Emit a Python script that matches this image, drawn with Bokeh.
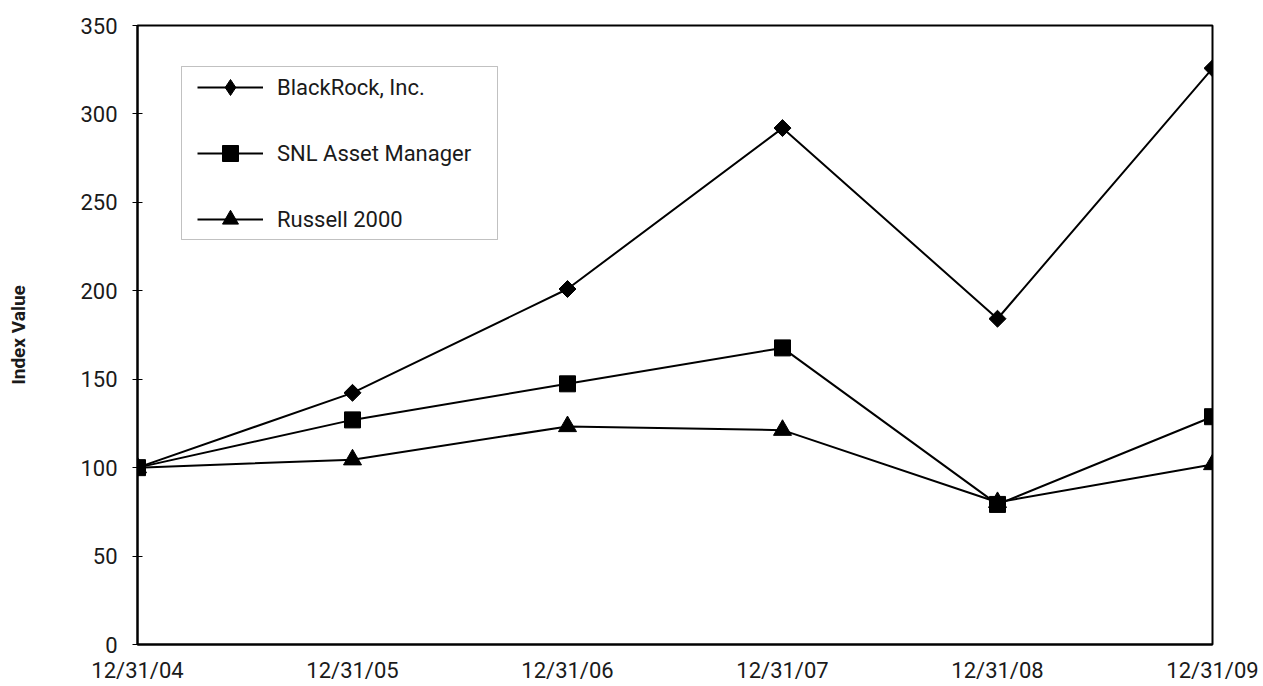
import numpy as np
from bokeh.plotting import figure
from bokeh.models import Range1d, FixedTicker, Legend, LegendItem, BoxAnnotation
from bokeh.embed import file_html
from bokeh.resources import INLINE

dates = ["12/31/04", "12/31/05", "12/31/06", "12/31/07", "12/31/08", "12/31/09"]
blackrock = [100, 142.3, 201.0, 292.0, 184.2, 325.8]
snl = [100, 127.0, 147.4, 167.7, 79.2, 128.8]
russell = [100, 104.5, 123.3, 121.2, 80.4, 101.8]
y_ticks = [0, 50, 100, 150, 200, 250, 300, 350]

FONT = "Roboto"
TEXT = "#1a1a1a"
x = list(range(len(dates)))

p = figure(width=1262, height=685, output_backend="svg", toolbar_location=None,
           x_range=Range1d(0, len(dates) - 1), y_range=Range1d(0, 350),
           min_border_left=137, min_border_right=50, min_border_top=25, min_border_bottom=40)
p.background_fill_color = "white"
p.border_fill_color = "white"
p.outline_line_color = "black"
p.outline_line_width = 2
p.xgrid.visible = False
p.ygrid.visible = False

p.xaxis.ticker = FixedTicker(ticks=x)
p.xaxis.major_label_overrides = {i: d for i, d in enumerate(dates)}
p.yaxis.ticker = FixedTicker(ticks=y_ticks)
for ax in (p.xaxis[0], p.yaxis[0]):
    ax.axis_line_color = "black"
    ax.axis_line_width = 2
    ax.major_tick_line_color = "black"
    ax.major_tick_in = 5
    ax.major_tick_out = 5
    ax.minor_tick_line_color = None
    ax.major_label_text_font = FONT
    ax.major_label_text_font_size = "22px"
    ax.major_label_text_color = TEXT
p.xaxis.major_tick_line_color = None
p.xaxis.major_tick_out = 0
p.xaxis.major_tick_in = 0
p.xaxis.major_label_standoff = 13
p.yaxis.major_label_standoff = 15
p.yaxis.axis_label = "Index Value"
p.yaxis.axis_label_text_font = FONT
p.yaxis.axis_label_text_font_style = "bold"
p.yaxis.axis_label_text_font_size = "19px"
p.yaxis.axis_label_text_color = TEXT
p.yaxis.axis_label_standoff = 47

r1l = p.line(x, blackrock, line_color="black", line_width=2)
r1m = p.scatter(x, blackrock, marker="square", angle=np.pi / 4, size=12, color="black")
r1g = p.scatter(x, blackrock, marker="diamond", size=16, color="black", visible=False)
r2l = p.line(x, snl, line_color="black", line_width=2)
r2m = p.scatter(x, snl, marker="square", size=16, color="black")
r3l = p.line(x, russell, line_color="black", line_width=2)
r3m = p.scatter(x, russell, marker="triangle", size=18, color="black")

# legend frame (screen units, relative to the plot frame)
box = BoxAnnotation(left=44, right=360, top=578, bottom=405,
                    left_units="screen", right_units="screen",
                    top_units="screen", bottom_units="screen",
                    fill_alpha=0, line_color="#333333", line_width=1)
p.add_layout(box)

legend = Legend(items=[
    LegendItem(label="BlackRock, Inc.", renderers=[r1l, r1g]),
    LegendItem(label="SNL Asset Manager", renderers=[r2l, r2m]),
    LegendItem(label="Russell 2000", renderers=[r3l, r3m]),
], location=(60, 405))
legend.margin = 0
legend.padding = 0
legend.spacing = 26
legend.glyph_width = 66
legend.glyph_height = 40
legend.label_height = 40
legend.label_standoff = 14
legend.label_text_font = FONT
legend.label_text_font_size = "22px"
legend.label_text_color = TEXT
legend.border_line_color = None
legend.background_fill_alpha = 0
p.add_layout(legend, "center")

open("out.html", "w").write(file_html(p, INLINE))
